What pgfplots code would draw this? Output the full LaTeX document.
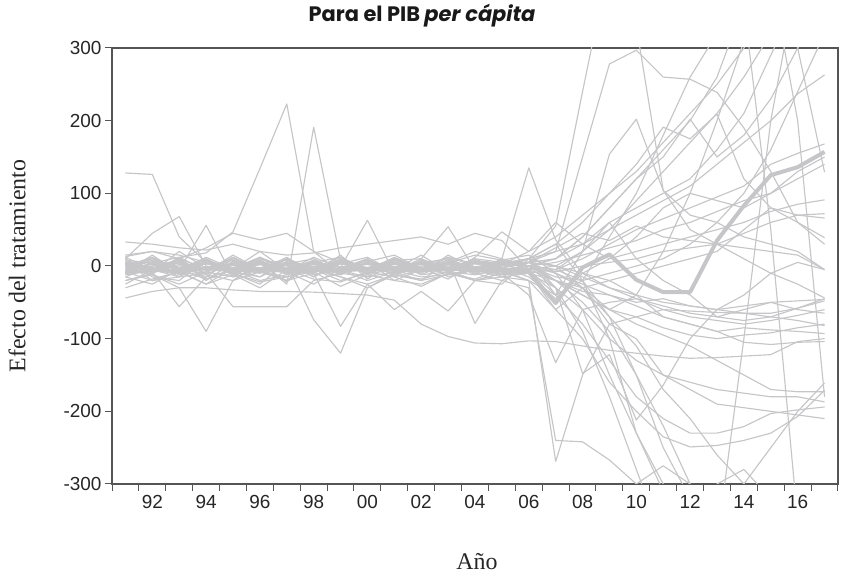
\documentclass[border=0pt]{standalone}
\usepackage{fontspec}
\usepackage{pgfplots}
\usepackage{pgfplotstable}
\pgfplotsset{compat=1.18}
\newfontfamily\tickfont{Liberation Sans}
\newfontfamily\labfont{Liberation Serif}
\newfontfamily\titfont{Poppins}
\definecolor{spag}{RGB}{198,198,200}
\definecolor{axgray}{RGB}{85,85,85}

\pgfplotstableread{
id a b c d e f g h i j k l m n o p q r s t u v w x y z aa
year 1991 1992 1993 1994 1995 1996 1997 1998 1999 2000 2001 2002 2003 2004 2005 2006 2007 2008 2009 2010 2011 2012 2013 2014 2015 2016 2017
s1 128 126 40 5 -3 2 -5 4 -2 3 -1 2 0 -3 1 5 -20 -40 -60 -70 -85 -95 -100 -95 -92 -85 -80
s2 8 4 12 18 47 134 223 20 -10 5 -8 3 10 -5 8 15 -10 -60 -150 -230 -310 -400 -420 -450 -460 -480 -500
s3 -5 3 -8 10 -12 5 -25 191 8 -10 4 -6 2 -3 5 0 -30 -148 -122 -212 -164 -100 -60 -40 -10 5 -5
s4 -44 -35 -30 -30 -33 -35 -35 -36 -38 -40 -47 -80 -97 -106 -107 -103 -104 -110 -116 -120 -124 -127 -126 -124 -122 -104 -100
u1 2 -6 10 -4 8 -10 6 -3 12 -5 3 -8 5 20 10 135 36 -10 -30 -40 -50 -55 -60 -65 -70 -75 -82
u2 -10 5 -15 8 -3 12 -7 4 -12 6 15 -4 8 -6 0 10 55 240 420 330 104 70 60 40 30 20 -5
u3 15 20 10 25 45 36 45 20 5 -10 8 -5 12 3 -2 5 20 150 278 297 260 257 239 190 130 60 30
u4 -15 0 8 -20 5 -6 10 -15 3 12 -8 6 -4 10 5 0 -5 20 154 202 104 50 30 10 -10 -25 -44
u5 10 45 68 0 -10 5 -8 3 -5 8 -4 6 -2 4 0 10 30 60 100 140 191 175 209 120 80 70 66
u6 -8 12 -5 56 -15 8 -10 5 12 -6 4 -10 15 -3 6 5 10 40 80 120 150 202 150 180 230 300 350
u7 33 30 25 22 30 20 15 18 25 30 35 40 30 45 35 -5 0 20 50 90 130 170 210 260 320 380 440
u8 13 20 15 5 -5 10 0 -8 6 -3 10 -2 4 15 8 0 10 30 60 80 100 120 160 210 290 370 420
u9 -5 8 -3 10 -8 6 -12 4 -2 63 -10 5 -6 8 3 10 20 30 50 70 90 110 140 170 200 237 263
u10 5 -10 12 -6 3 -8 10 -4 6 -12 8 10 54 -5 4 -10 -5 10 30 50 65 80 95 110 140 155 168
u11 -12 6 -4 8 -6 12 -3 5 -10 4 -8 10 -5 6 2 0 5 15 25 35 50 60 75 90 100 130 150
u12 0 -5 8 -12 6 -3 10 -8 4 -6 12 -4 8 -10 3 5 0 -10 10 20 30 40 50 60 75 85 91
u13 6 -3 -10 4 -8 10 -5 8 -12 5 -3 6 -8 4 -6 -3 -8 0 5 10 20 25 30 45 60 70 72
u14 -3 10 -6 12 -4 -10 6 -5 8 -3 5 -12 4 -8 10 0 -20 -30 -20 -10 0 10 20 50 80 60 39
u15 0 12 -8 5 -12 3 8 -6 10 -4 6 -3 -10 12 47 20 40 70 100 130 170 210 250 300 350 420 480
u16 8 -4 6 -10 12 -5 3 10 -8 6 -12 4 10 -4 -6 -20 -40 -20 40 100 180 260 320 380 420 300 129
u17 -8 15 -10 6 -4 20 -6 12 -3 8 -5 15 -8 6 4 10 0 -30 -60 -40 20 100 200 310 400 200 -180
u18 4 -8 20 -3 8 -6 12 -10 5 -8 10 -6 6 -12 8 0 -15 -20 -10 0 10 30 60 100 160 240 320
d2 -20 -10 5 -15 10 -8 -20 6 -12 10 -15 8 -6 -20 -10 -40 -133 -60 -50 -45 -55 -65 -70 -75 -70 -58 -45
d3 10 -15 -20 8 -10 -25 5 -10 15 -18 6 -12 -8 10 -15 -20 -269 -150 -80 -70 -60 -62 -64 -65 -65 -58 -48
d4 -25 -5 10 -12 -20 6 -8 -25 -3 10 -15 -5 12 -10 -20 -30 -240 -242 -267 -300 -275 -300 -330 -350 -360 -370 -380
d5 -10 5 -12 -8 15 -5 -20 0 -15 -30 -12 -20 5 -8 -3 10 -30 -90 -180 -280 -380 -420 -400 -380 -360 -340 -320
d6 5 -20 -8 -25 -3 -15 10 -12 -6 -20 -8 10 -15 -5 -12 -10 -60 -100 -160 -200 -235 -249 -247 -240 -230 -207 -171
d7 -15 -25 -5 -18 -10 -22 -15 -8 -28 -12 -20 -25 -10 -18 -5 -5 -40 -80 -130 -180 -210 -230 -230 -221 -203 -198 -194
d8 12 -5 -15 6 -10 4 -22 8 -6 -15 10 -3 -18 5 -8 0 -20 -50 -90 -150 -220 -300 -380 -100 200 400 500
d9 -3 -12 -30 -90 -20 -8 -15 -5 -20 -10 -6 -15 -12 -4 -10 5 -10 -30 -70 -110 -170 -210 -260 -300 -350 -400 -420
d10 -8 -20 -15 -10 -56 -56 -56 -20 -10 -15 -8 -20 -12 -6 -15 -10 -30 -60 -100 -130 -150 -160 -170 -175 -180 -180 -187
d11 -6 8 -12 5 -8 -15 3 -74 -120 -30 -10 5 -8 -12 -5 0 -10 -25 -40 -55 -70 -80 -90 -85 -88 -90 -93
d12 -20 -12 -25 -8 -15 -5 -20 -10 -83 -25 -12 -18 -8 -20 -15 5 0 -15 -30 -45 -60 -70 -75 -80 -75 -68 -60
d13 0 -8 -56 -15 -6 -20 -12 -5 -15 -25 -60 -35 -62 -20 -10 -10 -20 -40 -60 -80 -95 -110 -130 -150 -170 -173 -173
d14 5 -6 10 -18 -4 8 -10 3 -12 6 -20 -5 8 -79 -20 0 -5 -20 -70 -150 -250 -320 -350 -300 -250 -200 -161
d15 -30 -18 -8 -25 -12 -30 -5 -18 -22 -8 -15 -28 -10 -20 -25 10 30 -20 -100 -230 -300 -330 -300 -280 -320 -380 -400
d16 3 -10 6 -5 12 -8 4 -15 8 -4 10 -6 -3 8 -5 0 10 40 80 120 160 200 260 360 50 -350 -450
e1 3 -2 5 -4 2 -3 4 -1 3 -5 2 -2 4 -3 1 -5 -20 -35 -40 -50 -45 -55 -60 -55 -50 -48 -46
e2 -4 2 -3 5 -2 4 -5 3 -1 2 -4 5 -2 3 -3 5 25 45 35 55 40 35 30 25 20 15 -5
e3 -1 -6 2 -3 4 -7 1 -4 3 -2 5 -6 2 -5 -2 -15 -45 -10 -20 -40 -70 -80 -90 -105 -108 -105 -104
e4 2 5 -4 3 -6 2 -3 6 -5 4 -1 3 -6 5 2 20 60 30 10 40 80 100 90 80 100 120 140
e5 -7 0 4 -6 1 -4 2 -8 5 -3 -6 0 3 -4 -8 -20 -60 -30 -80 -100 -150 -170 -190 -195 -200 -205 -210
e6 5 -5 0 3 -3 6 -4 2 -6 4 -2 -5 5 -1 3 10 -40 20 60 10 -20 -40 -70 -60 -50 -60 -65
tt -10 -5 -8 -3 -6 -4 -7 -5 -6 -4 -5 -6 -4 -5 -6 -8 -51 -2 16 -19 -36 -36 35 83 125 136 157
}\raw
\pgfplotstabletranspose[colnames from=id]\data\raw

\begin{document}
\begin{tikzpicture}
\begin{axis}[
  at={(0,0)}, anchor=south west,
  scale only axis, width=726bp, height=436bp,
  xmin=1990.5, xmax=2017.5, ymin=-300, ymax=300,
  axis line style={draw=axgray, line width=1.2bp},
  tick style={draw=axgray, line width=1bp},
  tick align=outside, tick pos=left,
  xtick={1992,1994,...,2016},
  xticklabels={92,94,96,98,00,02,04,06,08,10,12,14,16},
  minor xtick={1990.5,1991.5,...,2017.5},
  major x tick style={draw=none},
  ytick={-300,-200,...,300},
  yticklabels={-300,-200,-100,0,100,200,300},
  major tick length=7bp, minor tick length=7bp,
  xticklabel style={font=\tickfont\fontsize{19}{19}\selectfont, text=black!85, yshift=-1bp},
  yticklabel style={font=\tickfont\fontsize{19}{19}\selectfont, text=black!85},
  every axis plot/.append style={line join=round},
]
\pgfplotsinvokeforeach{s1,s2,s3,s4,u1,u2,u3,u4,u5,u6,u7,u8,u9,u10,u11,u12,u13,u14,u15,u16,u17,u18,d2,d3,d4,d5,d6,d7,d8,d9,d10,d11,d12,d13,d14,d15,d16,e1,e2,e3,e4,e5,e6}{
  \addplot[spag, line width=1.15bp, no markers] table[x=year, y=#1]{\data};
}
\addplot[spag, line width=4bp, no markers] table[x=year, y=tt]{\data};
\end{axis}
\node[font=\titfont\fontsize{21}{21}\selectfont\bfseries, text=black!90] at (310bp,468bp) {Para el PIB \textit{per cápita}};
\node[rotate=90, font=\labfont\fontsize{24}{24}\selectfont, text=black!85] at (-95bp,218bp) {Efecto del tratamiento};
\node[font=\labfont\fontsize{24}{24}\selectfont, text=black!85] at (365bp,-78bp) {Año};
\path (-112bp,-92bp) rectangle (733bp,484bp);
\end{tikzpicture}
\end{document}
